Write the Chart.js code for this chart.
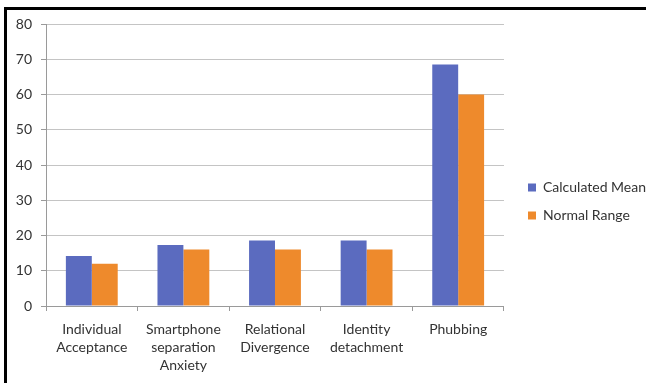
<!DOCTYPE html>
<html>
<head>
<meta charset="utf-8">
<script src="https://cdn.jsdelivr.net/npm/chart.js@4/dist/chart.umd.min.js"></script>
<style>
  html, body { margin: 0; padding: 0; background: #fff; }
  #wrap { position: relative; width: 646px; height: 383px; overflow: hidden; }
  #frame { position: absolute; left: 4px; top: 7px; right: -10px; bottom: -10px;
           border-top: 3px solid #000; border-left: 3px solid #000; pointer-events: none; }
  canvas { position: absolute; left: 0; top: 0; }
</style>
</head>
<body>
<div id="wrap">
  <canvas id="c" width="646" height="383"></canvas>
  <div id="frame"></div>
</div>
<script>
const categories = [
  ["Individual", "Acceptance"],
  ["Smartphone", "separation", "Anxiety"],
  ["Relational", "Divergence"],
  ["Identity", "detachment"],
  ["Phubbing"]
];
const calculatedMean = [14.2, 17.3, 18.6, 18.6, 68.5];
const normalRange = [12, 16, 16, 16, 60];
const yTicks = [0, 10, 20, 30, 40, 50, 60, 70, 80];

const FONT = "Lato, 'Liberation Sans', sans-serif";
const TEXT = "#333333";

// nudge the legend box a little to the right of where the layout puts it
const legendShift = {
  id: "legendShift",
  afterLayout(chart) {
    const lg = chart.legend;
    if (!lg) return;
    lg.left += 10; lg.right += 10;
    lg.top -= 2; lg.bottom -= 2;
  }
};

new Chart(document.getElementById("c"), {
  type: "bar",
  data: {
    labels: categories,
    datasets: [
      { label: "Calculated Mean", data: calculatedMean, backgroundColor: "#5b6bbf",
        categoryPercentage: 0.566, barPercentage: 1.0 },
      { label: "Normal Range", data: normalRange, backgroundColor: "#ee8a2c",
        categoryPercentage: 0.566, barPercentage: 1.0 }
    ]
  },
  plugins: [legendShift],
  options: {
    responsive: false,
    animation: false,
    layout: { padding: { top: 24, right: 0, bottom: 0, left: 0 } },
    plugins: {
      tooltip: { enabled: false },
      legend: {
        position: "right",
        align: "center",
        labels: {
          boxWidth: 8, boxHeight: 8, padding: 14,
          color: TEXT, font: { family: FONT, size: 14 }
        }
      }
    },
    scales: {
      x: {
        grid: { display: true, drawOnChartArea: false, drawTicks: true, tickLength: 5,
                color: "#9a9a9a", offset: true },
        border: { color: "#9a9a9a" },
        ticks: { color: TEXT, font: { family: FONT, size: 14, lineHeight: 1.28 },
                 padding: 10, maxRotation: 0, autoSkip: false },
        afterFit: s => { s.height = 77; }
      },
      y: {
        min: 0, max: 80,
        afterBuildTicks: s => { s.ticks = yTicks.map(v => ({ value: v })); },
        grid: { color: "#c4c4c4", tickLength: 5, tickColor: "#9a9a9a" },
        border: { color: "#9a9a9a" },
        ticks: { color: TEXT, font: { family: FONT, size: 14 }, padding: 9 },
        afterFit: s => { s.width = 46; }
      }
    }
  }
});
</script>
</body>
</html>
